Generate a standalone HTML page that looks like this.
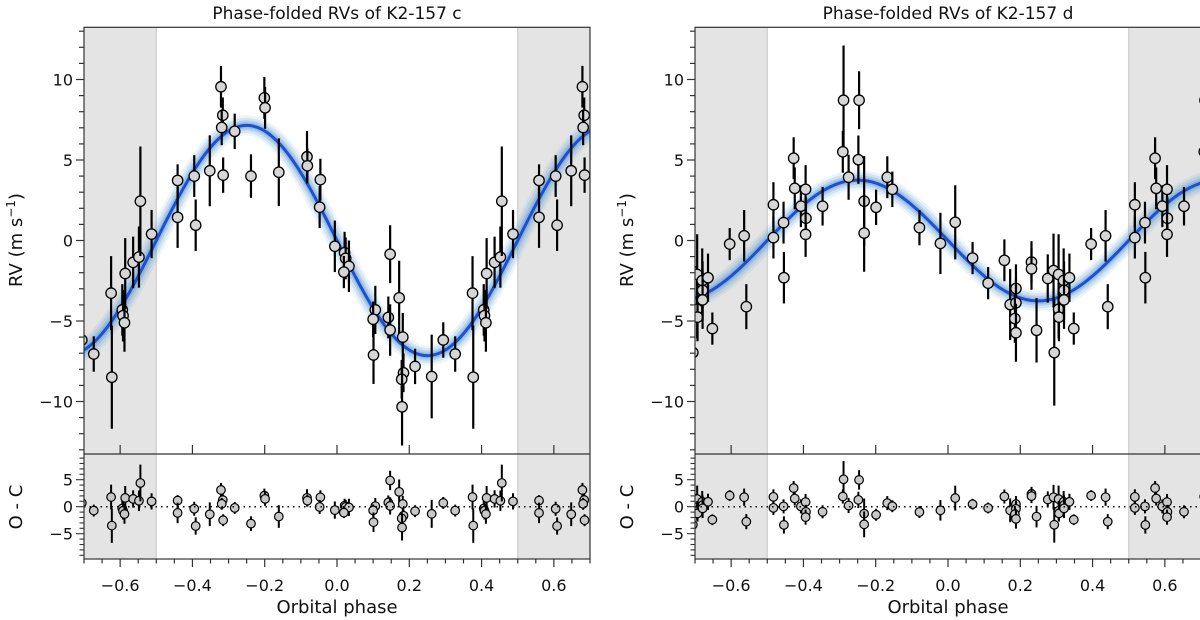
<!DOCTYPE html>
<html><head><meta charset="utf-8"><style>
html,body{margin:0;padding:0;background:#fff;}
svg{display:block;font-family:"DejaVu Sans","Liberation Sans",sans-serif;}
</style></head><body>
<svg id="fig" width="1200" height="620" viewBox="0 0 1200 620" xmlns="http://www.w3.org/2000/svg">
<defs>
<clipPath id="clipL"><rect x="84" y="27.3" width="506" height="531.7"/></clipPath>
<clipPath id="clipR"><rect x="695" y="27.3" width="506" height="531.7"/></clipPath>
</defs>
</svg>
<script>
// ---- K2-157 c data ----
const cPhase = [-0.441,-0.441,-0.395,-0.391,-0.352,-0.321,-0.316,-0.319,-0.315,-0.283,-0.238,-0.201,-0.199,-0.161,-0.083,-0.082,-0.046,-0.048,-0.006,0.021,0.024,0.033,0.019,0.106,0.1,0.101,0.147,0.142,0.147,0.172,0.182,0.184,0.179,0.18,0.216,0.262,0.294,0.327,0.375,0.377,0.406,0.408,0.412,0.414,0.436,0.452,0.456,0.487];
const cRV = [3.73,1.44,4.0,0.95,4.33,9.55,7.78,7.02,4.06,6.78,4.0,8.86,8.24,4.24,5.2,4.64,3.78,2.07,-0.36,-0.76,-1.11,-1.6,-1.96,-4.31,-4.89,-7.11,-0.85,-4.78,-5.56,-3.56,-6.0,-8.22,-8.62,-10.33,-7.82,-8.45,-6.18,-7.05,-3.27,-8.49,-4.31,-4.67,-5.11,-2.05,-1.36,-1.03,2.44,0.40];
const cErr = [1.0,1.9,1.3,1.6,2.2,1.3,1.1,1.1,1.1,1.1,1.35,1.3,1.3,2.1,1.6,1.1,1.3,1.3,1.6,1.3,1.3,1.6,1.0,1.5,1.1,1.8,1.8,1.3,1.6,2.3,1.5,1.2,1.2,2.4,1.1,2.6,1.1,1.1,2.3,3.2,1.6,1.6,1.8,2.2,1.6,1.9,3.4,1.5];
const cK = 7.15;
// ---- K2-157 d data ----
const dPhase = [-0.483,-0.483,-0.455,-0.454,-0.427,-0.424,-0.407,-0.394,-0.393,-0.394,-0.347,-0.289,-0.291,-0.275,-0.246,-0.248,-0.232,-0.232,-0.199,-0.168,-0.154,-0.079,-0.021,0.02,0.068,0.111,0.156,0.172,0.188,0.188,0.185,0.188,0.231,0.231,0.245,0.276,0.292,0.294,0.306,0.306,0.307,0.32,0.321,0.321,0.336,0.348,0.396,0.436,0.442];
const dRV = [2.22,0.18,1.11,-2.31,5.11,3.24,2.13,3.18,1.38,0.38,2.13,8.71,5.51,3.93,8.71,5.02,2.44,0.46,2.06,3.93,3.18,0.8,-0.18,1.13,-1.09,-2.65,-1.23,-3.98,-2.98,-3.87,-4.85,-5.73,-1.34,-1.76,-5.58,-2.36,-1.87,-6.96,-2.11,-4.27,-4.76,-2.49,-3.09,-3.69,-2.31,-5.47,-0.22,0.29,-4.11];
const dErr = [1.4,1.3,1.3,1.6,1.3,1.3,1.3,1.5,1.3,1.4,1.2,3.4,1.3,1.4,1.8,1.5,2.8,2.4,1.1,1.3,1.1,1.1,1.9,2.3,1.0,1.0,1.3,2.2,1.5,1.5,1.5,1.8,1.3,1.3,2.0,1.5,2.3,3.3,2.5,1.8,1.5,2.0,1.8,1.8,1.5,1.0,1.0,1.6,1.4];
const dK = 3.75;
const xTicks = [-0.6,-0.4,-0.2,0.0,0.2,0.4,0.6];
const xTickLabels = ["\u22120.6","\u22120.4","\u22120.2","0.0","0.2","0.4","0.6"];
const yTicks = [-10,-5,0,5,10];
const yTickLabels = ["\u221210","\u22125","0","5","10"];
const rTicks = [-5,0,5];
const rTickLabels = ["\u22125","0","5"];

const NS = "http://www.w3.org/2000/svg";
const svg = document.getElementById('fig');
function mk(tag, attrs, parent){
  const e = document.createElementNS(NS, tag);
  for (const k in attrs) e.setAttribute(k, attrs[k]);
  (parent||svg).appendChild(e);
  return e;
}
function model(K, x){ return -K*Math.sin(2*Math.PI*x); }

function panel(ox, phase, rv, err, K, title, clipId, key){
  const W = 506, top = 27.3, mid = 454, bot = 559;
  const xs = v => ox + (v + 0.7) * (W/1.4);
  const ys = v => 240.5 - v*16.1;
  const yr = v => 506.7 - v*5.4;
  const g = mk('g', {});
  
  
  [[-0.7,-0.5],[0.5,0.7]].forEach((s,i)=>{
    const r = mk('rect', {x: xs(s[0]), y: top, width: xs(s[1])-xs(s[0]), height: bot-top, fill:'#e4e4e4'}, g);
    
    
    const bx = i===0 ? xs(s[1]) : xs(s[0]);
    mk('line', {x1:bx, x2:bx, y1:top, y2:bot, stroke:'#d4d4d4', 'stroke-width':1.5}, g);
  });
  const cg = mk('g', {'clip-path': 'url(#' + clipId + ')'}, g);
  let d = '';
  for (let i=0;i<=280;i++){ const x = -0.72 + i*(1.44/280); d += (i?'L':'M') + xs(x).toFixed(2) + ',' + ys(model(K,x)).toFixed(2); }
  [[20,0.10],[15,0.16],[10,0.24],[6,0.34]].forEach(b=>{
    mk('path', {d:d, fill:'none', stroke:'#4f97cc', 'stroke-width':b[0], 'stroke-opacity':b[1], 'stroke-linejoin':'round'}, cg);
  });
  const ml = mk('path', {d:d, fill:'none', stroke:'#1e4fd6', 'stroke-width':3}, cg);
  
  
  mk('line', {x1:ox, x2:ox+W, y1:yr(0), y2:yr(0), stroke:'#000', 'stroke-width':1.5, 'stroke-dasharray':'1.5,4'}, g);
  for (let i=0;i<phase.length;i++){
    for (const sh of [-1,0,1]){
      const p = phase[i] + sh;
      if (p < -0.72 || p > 0.72) continue;
      const cx = xs(p), cy = ys(rv[i]);
      const eb = mk('line', {x1:cx, x2:cx, y1:Math.max(top,ys(rv[i]+err[i])), y2:Math.min(mid,ys(rv[i]-err[i])), stroke:'#000', 'stroke-width':2.2}, cg);
      
      
      const pt = mk('circle', {cx:cx, cy:cy, r:5.2, fill:'#d6d6d6', stroke:'#000', 'stroke-width':1.3}, cg);
      
      
      const res = rv[i] - model(K, p);
      const ry = yr(res);
      mk('line', {x1:cx, x2:cx, y1:yr(res+err[i]), y2:yr(res-err[i]), stroke:'#000', 'stroke-width':2}, cg);
      const rp = mk('circle', {cx:cx, cy:ry, r:4.3, fill:'#c8c8c8', stroke:'#000', 'stroke-width':1.2}, cg);
      
      
    }
  }
  mk('rect', {x:ox, y:top, width:W, height:bot-top, fill:'none', stroke:'#333', 'stroke-width':1.2}, g);
  mk('line', {x1:ox, x2:ox+W, y1:mid, y2:mid, stroke:'#333', 'stroke-width':1.2}, g);
  for (let v=-0.7; v<=0.701; v+=0.05){
    const x = xs(v);
    const major = Math.abs(Math.round(v*5)-v*5) < 1e-6 && Math.abs(v) < 0.69;
    mk('line', {x1:x, x2:x, y1:bot, y2:bot+(major?8:4.5), stroke:'#333', 'stroke-width':1.2}, g);
  }
  xTicks.forEach((v,i)=>{
    const x = xs(v);
    mk('line', {x1:x, x2:x, y1:mid, y2:mid-9, stroke:'#333', 'stroke-width':1.2}, g);
    const t = mk('text', {x:x, y:591, 'font-size':16, 'text-anchor':'middle', fill:'#111'}, g);
    t.textContent = xTickLabels[i];
    
    
  });
  for (let v=-13; v<=13; v++){
    const y = ys(v);
    const major = v % 5 === 0;
    mk('line', {x1:ox, x2:ox-(major?8:5), y1:y, y2:y, stroke:'#333', 'stroke-width':1.2}, g);
  }
  yTicks.forEach((v,i)=>{
    const t = mk('text', {x:ox-11, y:ys(v)+6, 'font-size':16, 'text-anchor':'end', fill:'#111'}, g);
    t.textContent = yTickLabels[i];
    
    
  });
  for (let v=-9; v<=9; v++){
    const y = yr(v);
    const major = v % 5 === 0;
    mk('line', {x1:ox, x2:ox-(major?8:4.5), y1:y, y2:y, stroke:'#333', 'stroke-width':1.1}, g);
  }
  rTicks.forEach((v,i)=>{
    const t = mk('text', {x:ox-11, y:yr(v)+6, 'font-size':16, 'text-anchor':'end', fill:'#111'}, g);
    t.textContent = rTickLabels[i];
    
    
  });
  const tt = mk('text', {x:ox+W/2, y:19, 'font-size':17, 'text-anchor':'middle', fill:'#111'}, g);
  tt.textContent = title;
  
  
  const xl = mk('text', {x:ox+W/2, y:613, 'font-size':18, 'text-anchor':'middle', fill:'#111'}, g);
  xl.textContent = 'Orbital phase';
  
  
  const ylx = ox - 62;
  const yl = mk('text', {x:ylx, y:240, 'font-size':18, 'text-anchor':'middle', fill:'#111', transform:'rotate(-90 '+ylx+' 240)'}, g);
  yl.innerHTML = 'RV (m s<tspan dy="-7" font-size="12">\u22121</tspan><tspan dy="7">)</tspan>';
  
  
  const oc = mk('text', {x:ylx, y:507, 'font-size':18, 'text-anchor':'middle', fill:'#111', transform:'rotate(-90 '+ylx+' 507)'}, g);
  oc.textContent = 'O - C';
  
  
}
panel(84, cPhase, cRV, cErr, cK, 'Phase-folded RVs of K2-157 c', 'clipL', 'planet-c');
panel(695, dPhase, dRV, dErr, dK, 'Phase-folded RVs of K2-157 d', 'clipR', 'planet-d');
</script>
</body></html>
